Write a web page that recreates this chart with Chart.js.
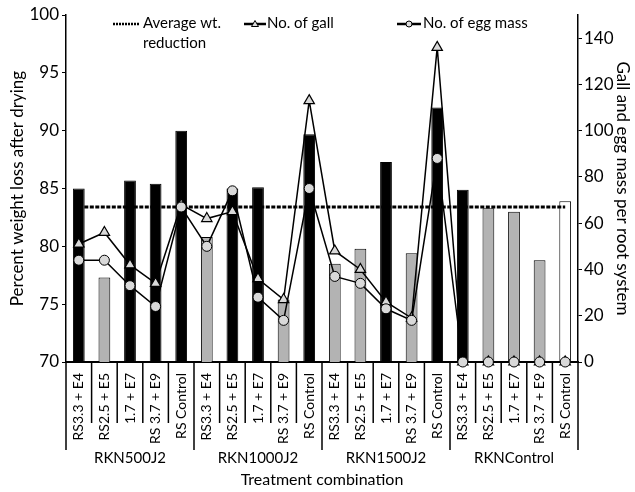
<!DOCTYPE html>
<html lang="en">
<head>
    <meta charset="UTF-8">
    <title>Weight loss, gall and egg mass</title>
    <script src="https://cdn.jsdelivr.net/npm/chart.js"></script>
    <style>
        body{
            margin: 0;
            background: #fff;
        }
        #wrap{
            width: 635px;
            height: 492px;
        }
    </style>
</head>
<body>
    <div id="wrap"><canvas id="myChart"></canvas></div>

    <script>
        // chart values
        const groups = ['RKN500J2', 'RKN1000J2', 'RKN1500J2', 'RKNControl'];
        const treatments = ['RS3.3 + E4', 'RS2.5 + E5', '1.7 + E7', 'RS 3.7 + E9', 'RS Control'];
        const categories = groups.flatMap(() => treatments);

        const weightLoss = [85.0, 77.3, 85.7, 85.4, 90.0,
                            80.8, 85.0, 85.1, 75.4, 89.7,
                            78.5, 79.8, 87.3, 79.4, 92.0,
                            84.9, 83.3, 83.0, 78.8, 83.9];
        const avgReduction = 83.4;
        const galls = [51, 56, 42, 34, 68,
                       62, 65, 36, 27, 113,
                       48, 40, 26, 19, 136,
                       0, 0, 0, 0, 0];
        const eggMass = [44, 44, 33, 24, 67,
                         50, 74, 28, 18, 75,
                         37, 34, 23, 18, 88,
                         0, 0, 0, 0, 0];
        const rightTicks = [0, 20, 40, 60, 80, 100, 120, 140];

        // bar shading as in the figure
        const barColors = ['#000', '#b3b3b3', '#000', '#000', '#000',
                           '#b3b3b3', '#000', '#000', '#b3b3b3', '#000',
                           '#b3b3b3', '#b3b3b3', '#000', '#b3b3b3', '#000',
                           '#000', '#b3b3b3', '#b3b3b3', '#b3b3b3', '#fff'];

        const FONT = 'Lato, "Open Sans", sans-serif';

        // separators and group names under the x axis, plus the legend
        const extras = {
            id: 'extras',
            afterDraw(chart) {
                const c = chart.ctx;
                const x = chart.scales.x;
                const y0 = chart.chartArea.bottom;
                const half = (x.getPixelForValue(1) - x.getPixelForValue(0)) / 2;
                const n = categories.length;
                c.save();
                c.strokeStyle = '#000';
                c.lineWidth = 1.5;
                for (let i = 0; i <= n; i++) {
                    const px = i < n ? x.getPixelForValue(i) - half : x.getPixelForValue(n - 1) + half;
                    const len = (i % treatments.length === 0) ? 88 : 61;
                    c.beginPath();
                    c.moveTo(px, y0);
                    c.lineTo(px, y0 + len);
                    c.stroke();
                }
                c.fillStyle = '#000';
                c.font = '15px ' + FONT;
                c.textAlign = 'center';
                c.textBaseline = 'middle';
                groups.forEach((g, k) => {
                    const a = x.getPixelForValue(k * treatments.length) - half;
                    const b = x.getPixelForValue((k + 1) * treatments.length - 1) + half;
                    c.fillText(g, (a + b) / 2, y0 + 96);
                });

                // legend
                const ly = 24;
                c.font = '15px ' + FONT;
                c.textAlign = 'left';
                c.lineWidth = 2.5;
                c.setLineDash([2, 1]);
                c.beginPath(); c.moveTo(113, ly); c.lineTo(140, ly); c.stroke();
                c.setLineDash([]);
                c.fillText('Average wt.', 143, ly - 1);
                c.fillText('reduction', 143, ly + 19);

                c.beginPath(); c.moveTo(244, ly); c.lineTo(266, ly); c.stroke();
                c.lineWidth = 1;
                c.fillStyle = '#ddd';
                c.beginPath();
                c.moveTo(255, ly - 3.5); c.lineTo(258.5, ly + 2.5); c.lineTo(251.5, ly + 2.5);
                c.closePath(); c.fill(); c.stroke();
                c.fillStyle = '#000';
                c.fillText(chart.data.datasets[2].label, 267, ly - 1);

                c.lineWidth = 2.5;
                c.beginPath(); c.moveTo(397, ly); c.lineTo(421, ly); c.stroke();
                c.lineWidth = 1;
                c.fillStyle = '#ddd';
                c.beginPath(); c.arc(409, ly, 3, 0, Math.PI * 2); c.fill(); c.stroke();
                c.fillStyle = '#000';
                c.fillText(chart.data.datasets[3].label, 423, ly - 1);
                c.restore();
            }
        };

        const ctx = document.getElementById('myChart').getContext('2d');
        const myChart = new Chart(ctx, {
            type: 'bar',
            data: {
                labels: categories,
                datasets: [{
                    label: 'Percent weight loss',
                    data: weightLoss,
                    yAxisID: 'y',
                    backgroundColor: barColors,
                    borderColor: '#000',
                    borderWidth: 1,
                    barPercentage: 0.46,
                    categoryPercentage: 1,
                    order: 4
                }, {
                    type: 'line',
                    label: 'Average wt. reduction',
                    data: categories.map(() => avgReduction),
                    yAxisID: 'y',
                    borderColor: '#000',
                    borderWidth: 3,
                    borderDash: [4, 1.5],
                    pointRadius: 0,
                    order: 3
                }, {
                    type: 'line',
                    label: 'No. of gall',
                    data: galls,
                    yAxisID: 'y1',
                    borderColor: '#000',
                    borderWidth: 1.5,
                    pointStyle: 'triangle',
                    pointRadius: 6,
                    pointBackgroundColor: '#d9d9d9',
                    pointBorderColor: '#000',
                    pointBorderWidth: 1.2,
                    clip: false,
                    order: 2
                }, {
                    type: 'line',
                    label: 'No. of egg mass',
                    data: eggMass,
                    yAxisID: 'y1',
                    borderColor: '#000',
                    borderWidth: 1.5,
                    pointStyle: 'circle',
                    pointRadius: 5,
                    pointBackgroundColor: '#d9d9d9',
                    pointBorderColor: '#000',
                    pointBorderWidth: 1,
                    clip: false,
                    order: 1
                }]
            },
            options: {
                responsive: true,
                maintainAspectRatio: false,
                animation: false,
                layout: { padding: { top: 15 } },
                plugins: {
                    legend: { display: false },
                    tooltip: { enabled: false }
                },
                scales: {
                    x: {
                        grid: { display: false },
                        border: { color: '#000', width: 2 },
                        ticks: {
                            color: '#000',
                            font: { family: FONT, size: 14 },
                            autoSkip: false,
                            maxRotation: 90,
                            minRotation: 90,
                            padding: 3
                        },
                        title: {
                            display: true,
                            text: 'Treatment combination',
                            color: '#000',
                            font: { family: FONT, size: 16 },
                            padding: { bottom: 3 }
                        },
                        afterFit(scale) { scale.height = 130; }
                    },
                    y: {
                        position: 'left',
                        min: 70,
                        max: 100,
                        ticks: {
                            stepSize: 5,
                            color: '#000',
                            font: { family: FONT, size: 17 },
                            padding: 3
                        },
                        grid: { drawOnChartArea: false, color: '#000', tickLength: 4 },
                        border: { color: '#000', width: 1.5 },
                        title: {
                            display: true,
                            text: 'Percent weight loss after drying',
                            color: '#000',
                            font: { family: FONT, size: 17 },
                            padding: { top: 7 }
                        },
                        afterFit(scale) { scale.width = 66; }
                    },
                    y1: {
                        position: 'right',
                        min: 0,
                        max: 150,
                        afterBuildTicks(scale) {
                            scale.ticks = rightTicks.map(v => ({ value: v }));
                        },
                        ticks: {
                            color: '#000',
                            font: { family: FONT, size: 17 },
                            padding: 2
                        },
                        grid: { drawOnChartArea: false, color: '#000', tickLength: 4 },
                        border: { color: '#000', width: 1.5 },
                        title: {
                            display: true,
                            text: 'Gall and egg mass per root system',
                            color: '#000',
                            font: { family: FONT, size: 17 },
                            padding: { top: 2 }
                        },
                        afterFit(scale) { scale.width = 57; }
                    }
                }
            },
            plugins: [extras]
        });
    </script>
</body>
</html>
